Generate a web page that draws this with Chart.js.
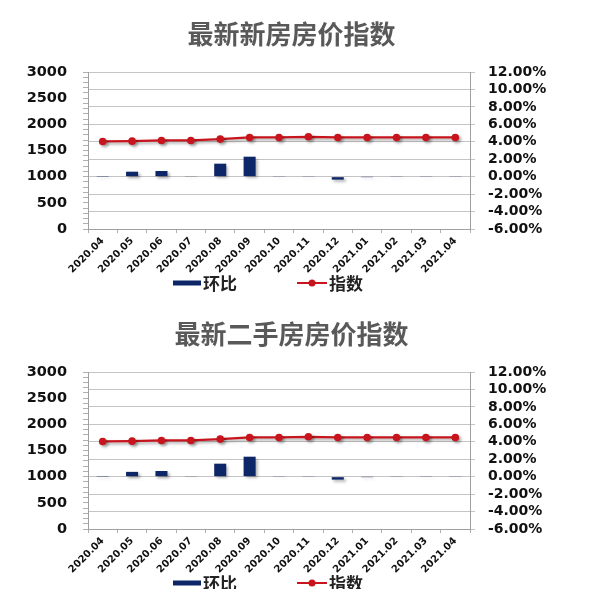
<!DOCTYPE html>
<html>
<head>
<meta charset="utf-8">
<script src="https://cdn.jsdelivr.net/npm/chart.js@4.4.1/dist/chart.umd.min.js"></script>
<style>
    body { margin: 0; width: 600px; height: 589px; overflow: hidden; background: #fff; font-family: "DejaVu Sans", sans-serif; }
    .box { position: absolute; left: 0; width: 600px; height: 300px; }
    .title { position: absolute; left: 0; top: 20px; width: 583px; text-align: center; line-height: 26px;
             font: bold 26px/26px "Noto Sans CJK SC", sans-serif; color: #595959; }
</style>
</head>
<body>
<div class="box" style="top:0">
    <canvas id="chart1" width="600" height="300"></canvas>
    <div class="title">最新新房房价指数</div>
</div>
<div class="box" style="top:300px">
    <canvas id="chart2" width="600" height="300"></canvas>
    <div class="title">最新二手房房价指数</div>
</div>
<script>
const months = ["2020.04", "2020.05", "2020.06", "2020.07", "2020.08", "2020.09", "2020.10",
    "2020.11", "2020.12", "2021.01", "2021.02", "2021.03", "2021.04"];

// 新房
const newIndex = [1673, 1679, 1692, 1692, 1718, 1749, 1749, 1762, 1749, 1749, 1749, 1749, 1749];
const newMoM = [0.02, 0.57, 0.65, 0.08, 1.49, 2.29, 0.08, 0.08, -0.34, -0.02, 0.08, 0.08, 0.08];

// 二手房
const usedIndex = [1673, 1679, 1692, 1692, 1718, 1749, 1749, 1762, 1749, 1749, 1749, 1749, 1749];
const usedMoM = [0.02, 0.55, 0.65, 0.08, 1.49, 2.29, 0.08, 0.08, -0.34, -0.02, 0.08, 0.08, 0.08];

const leftMin = 0, leftMax = 3000, leftStep = 500;
const rightMin = -6, rightMax = 12, rightStep = 2;

const barColor = "#0d2668";
const lineColor = "#c8141c";

// shadow under bars and line, like the Excel look
const shadowPlugin = {
    id: "shadow",
    beforeDatasetDraw(chart) {
        const ctx = chart.ctx;
        ctx.save();
        ctx.shadowColor = "rgba(0,0,0,0.35)";
        ctx.shadowBlur = 3;
        ctx.shadowOffsetX = 2;
        ctx.shadowOffsetY = 2;
    },
    afterDatasetDraw(chart) {
        chart.ctx.restore();
    }
};

// legend drawn by hand: bar swatch and line-with-marker swatch
const legendPlugin = {
    id: "excelLegend",
    afterDraw(chart) {
        const ctx = chart.ctx;
        const y = 283;
        ctx.save();
        ctx.fillStyle = barColor;
        ctx.fillRect(173, y - 2.5, 28, 5);
        ctx.font = "bold 17px 'Noto Sans CJK SC', sans-serif";
        ctx.fillStyle = "#222";
        ctx.textBaseline = "middle";
        ctx.fillText(chart.data.datasets[0].label, 203, y + 1);

        ctx.strokeStyle = lineColor;
        ctx.lineWidth = 2;
        ctx.beginPath();
        ctx.moveTo(297, y);
        ctx.lineTo(327, y);
        ctx.stroke();
        ctx.fillStyle = lineColor;
        ctx.beginPath();
        ctx.arc(312, y, 3.5, 0, Math.PI * 2);
        ctx.fill();
        ctx.fillStyle = "#222";
        ctx.fillText(chart.data.datasets[1].label, 329, y + 1);
        ctx.restore();
    }
};

function makeChart(id, indexData, momData) {
    const ctx = document.getElementById(id).getContext("2d");
    return new Chart(ctx, {
        type: "bar",
        data: {
            labels: months,
            datasets: [{
                type: "bar",
                label: "环比",
                data: momData,
                yAxisID: "y1",
                backgroundColor: barColor,
                barPercentage: 0.41,
                categoryPercentage: 1,
                order: 2
            }, {
                type: "line",
                label: "指数",
                data: indexData,
                yAxisID: "y",
                borderColor: lineColor,
                backgroundColor: lineColor,
                borderWidth: 2.2,
                pointRadius: 3.8,
                pointBackgroundColor: lineColor,
                pointBorderWidth: 0,
                tension: 0,
                order: 1
            }]
        },
        options: {
            responsive: false,
            animation: false,
            layout: { padding: { top: 72, left: 0, right: 0, bottom: 0 } },
            plugins: {
                legend: { display: false },
                tooltip: { enabled: false }
            },
            scales: {
                x: {
                    offset: true,
                    grid: { display: true, drawOnChartArea: false, offset: true, tickLength: 4, color: "#b0b0b0" },
                    border: { color: "#a0a0a0" },
                    ticks: {
                        maxRotation: 45, minRotation: 45, autoSkip: false, padding: 2,
                        color: "#111", font: { size: 10, weight: "bold", family: "DejaVu Sans" }
                    },
                    afterFit: scale => { scale.height = 71; }
                },
                y: {
                    position: "left",
                    min: leftMin, max: leftMax,
                    grid: { drawOnChartArea: false, tickLength: 5, color: "#b0b0b0" },
                    border: { color: "#a0a0a0" },
                    ticks: {
                        stepSize: 100, autoSkip: false, padding: 16,
                        callback: v => (v % leftStep === 0 ? v : ""),
                        color: "#111", font: { size: 14.5, weight: "bold", family: "DejaVu Sans" }
                    },
                    afterFit: scale => { scale.width = 88; }
                },
                y1: {
                    position: "right",
                    min: rightMin, max: rightMax,
                    grid: { drawOnChartArea: true, tickLength: 5, color: "#c4c4c4" },
                    border: { color: "#a0a0a0" },
                    ticks: {
                        stepSize: rightStep, autoSkip: false, padding: 13,
                        callback: v => v.toFixed(2) + "%",
                        color: "#111", font: { size: 14, weight: "bold", family: "DejaVu Sans" }
                    },
                    afterFit: scale => { scale.width = 130; }
                }
            }
        },
        plugins: [shadowPlugin, legendPlugin]
    });
}

makeChart("chart1", newIndex, newMoM);
makeChart("chart2", usedIndex, usedMoM);
</script>
</body>
</html>
